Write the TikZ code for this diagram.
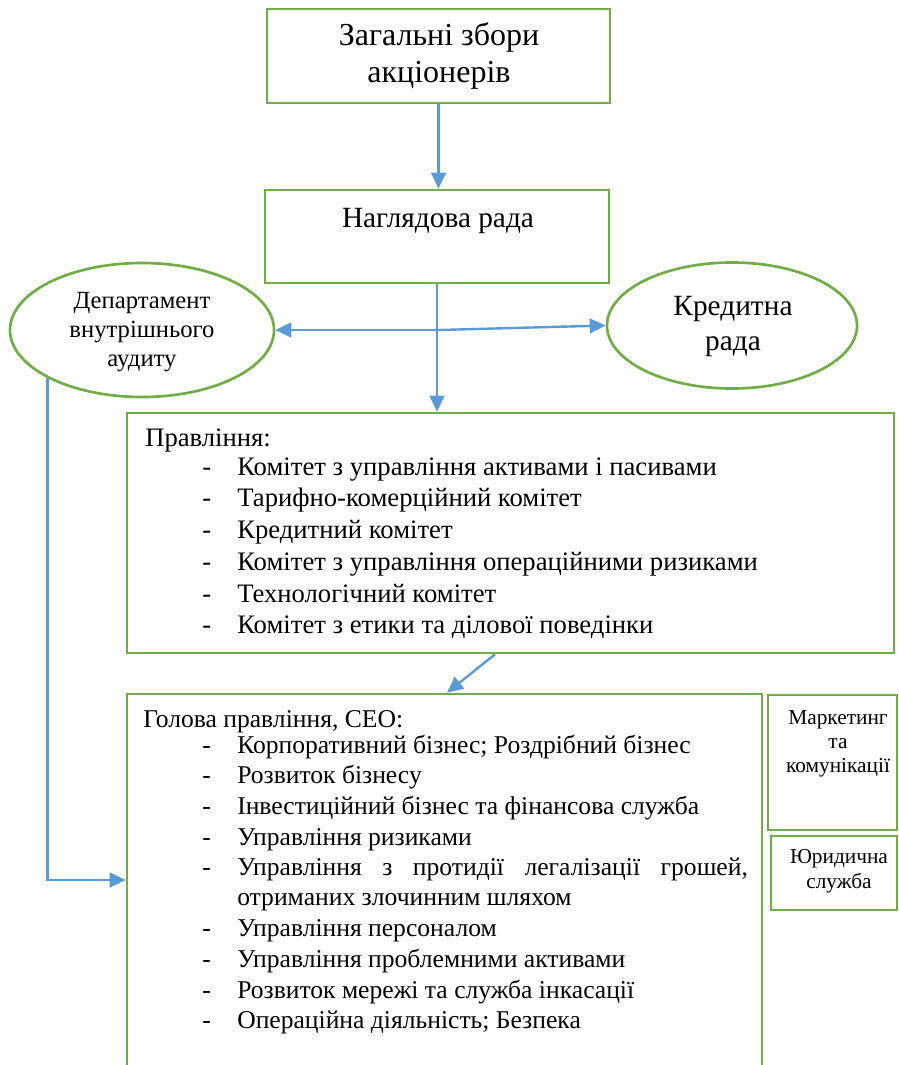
\documentclass[tikz,border=0pt]{standalone}
\usepackage{fontspec}
\setmainfont{Liberation Serif}
\usetikzlibrary{arrows.meta,shapes.geometric,fit,calc}
\definecolor{grn}{HTML}{70AD47}
\definecolor{blu}{HTML}{5B9BD5}
\begin{document}
\begin{tikzpicture}[x=0.75pt,y=-0.75pt,
  box/.style={draw=grn,line width=2pt,rectangle,inner sep=0pt},
  oval/.style={draw=grn,line width=2pt,ellipse,inner sep=0pt},
  arr/.style={draw=blu,line width=1.8pt,-{Triangle[length=12pt,width=11pt]}},
  txt/.style={inner sep=0pt,anchor=base west},
  ctxt/.style={inner sep=0pt,anchor=base},
  big/.style={font=\fontsize{24}{28}\selectfont},
  mid/.style={font=\fontsize{22}{26}\selectfont},
  ovl/.style={font=\fontsize{18.5}{22}\selectfont},
  lst/.style={font=\fontsize{20}{24}\selectfont},
  ceol/.style={font=\fontsize{19.2}{23}\selectfont},
  sml/.style={font=\fontsize{16}{19}\selectfont},
]
\useasboundingbox (0,0) rectangle (899,1065);
\clip (0,0) rectangle (899,1065);
\fill[white] (0,0) rectangle (899,1065);

% boxes
\node[box,fit={(267,9) (610,103)}] (gen) {};
\node[box,fit={(265,190) (609,283)}] (sup) {};
\node[oval,minimum width=198pt,minimum height=100.5pt] (aud) at (142,330) {};
\node[oval,minimum width=187.5pt,minimum height=94.5pt] (cred) at (732,325.5) {};
\node[box,fit={(127,413) (894,653)}] (prav) {};
\node[box,fit={(127,694) (762,1085)}] (ceo) {};
\node[box,fit={(768,695) (897,830)}] (mkt) {};
\node[box,fit={(771,836) (897,910)}] (law) {};

% texts
\node[ctxt,big] (gen1) at (439,45) {Загальні збори};
\node[ctxt,big] (gen2) at (439,82) {акціонерів};
\node[ctxt,mid] (sup1) at (438,227) {Наглядова рада};
\node[ctxt,ovl] (aud1) at (142,308) {Департамент};
\node[ctxt,ovl] (aud2) at (142,337) {внутрішнього};
\node[ctxt,ovl] (aud3) at (142,366) {аудиту};
\node[ctxt,mid] (cred1) at (733,315) {Кредитна};
\node[ctxt,mid] (cred2) at (733,350) {рада};
\node[ctxt,sml] (mkt1) at (838,724) {Маркетинг};
\node[ctxt,sml] (mkt2) at (838,748) {та};
\node[ctxt,sml] (mkt3) at (838,772) {комунікації};
\node[ctxt,sml] (law1) at (839,863) {Юридична};
\node[ctxt,sml] (law2) at (839,888) {служба};

\node[txt,lst] (p0) at (145,446) {Правління:};
\foreach \y/\t [count=\i] in {475/{Комітет з управління активами і пасивами},
  506/{Тарифно-комерційний комітет},
  538/{Кредитний комітет},
  570/{Комітет з управління операційними ризиками},
  602/{Технологічний комітет},
  633/{Комітет з етики та ділової поведінки}}{
  \node[txt,lst] (pd\i) at (202,\y) {-};
  \node[txt,lst] (p\i) at (237,\y) {\t};
}

\node[txt,ceol] (c0) at (143,727) {Голова правління, СЕО:};
\foreach \y/\t [count=\i] in {753/{Корпоративний бізнес; Роздрібний бізнес},
  783/{Розвиток бізнесу},
  814/{Інвестиційний бізнес та фінансова служба},
  845/{Управління ризиками},
  875/{\hbox to 383pt{Управління\hfill з\hfill протидії\hfill легалізації\hfill грошей,}},
  936/{Управління персоналом},
  967/{Управління проблемними активами},
  998/{Розвиток мережі та служба інкасації},
  1028/{Операційна діяльність; Безпека}}{
  \node[txt,ceol] (cd\i) at (202,\y) {-};
  \node[txt,ceol] (c\i) at (237,\y) {\t};
}
\node[txt,ceol] (c5b) at (237,905) {отриманих злочинним шляхом};

% connectors
\coordinate (j) at (439,330);
\coordinate (x495) at (495,0);
\coordinate (x447) at (447,0);
\coordinate (y880) at (0,880);
\draw[arr] (gen.south) -- (gen.south |- sup.north);
\draw[arr] (sup.south) -- (sup.south |- prav.north);
\draw[arr] (j) -- (aud.east);
\draw[arr] (j) -- (cred.west);
\draw[arr] (prav.south -| x495) -- (ceo.north -| x447);
\draw[arr] (aud.207.55) |- (ceo.west |- y880);
\end{tikzpicture}
\end{document}
